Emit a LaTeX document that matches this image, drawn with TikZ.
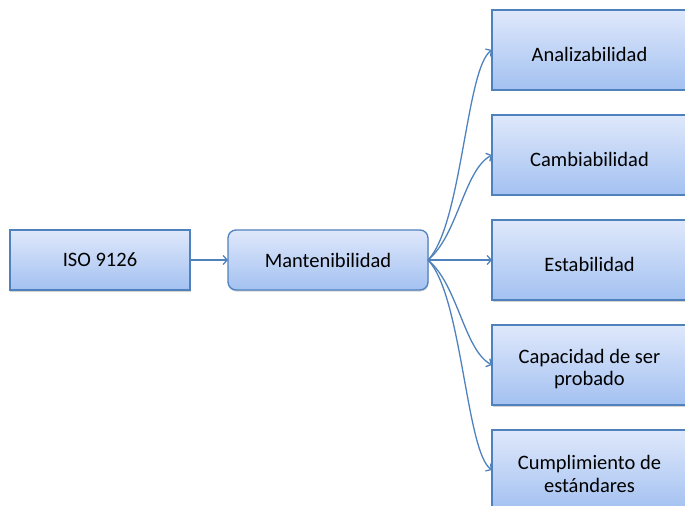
\documentclass[tikz,border=0pt]{standalone}
\usepackage{fontspec}
\setmainfont{Carlito}
\usetikzlibrary{arrows.meta,shadows}
\definecolor{edge}{RGB}{79,129,189}
\definecolor{filltop}{RGB}{223,232,251}
\definecolor{fillbot}{RGB}{163,193,241}
\begin{document}
\begin{tikzpicture}[x=1bp,y=-1bp,
  font=\fontsize{20.5bp}{22.5bp}\selectfont,
  box/.style={draw=edge, line width=1.3bp, top color=filltop, bottom color=fillbot,
    inner sep=0pt, outer sep=0pt, text=black,
    drop shadow={shadow xshift=0.5bp, shadow yshift=-1.5bp, opacity=0.35}},
  leftbox/.style={box, minimum width=180bp, minimum height=60bp},
  midbox/.style={box, minimum width=200bp, minimum height=60bp, rounded corners=8bp},
  rightbox/.style={box, minimum width=195bp, minimum height=80bp},
  txt/.style={align=center, yshift=-4bp},
  conn/.style={draw=edge, line width=1.3bp, -{Straight Barb[length=4bp,width=9bp]}}
]
\clip (0,0) rectangle (685,506);

% main chain
\node[leftbox] (iso) at (100,260) {ISO 9126};
\node[midbox] (m) at (328,260) {Mantenibilidad};

% sub-characteristics
\node[rightbox, label={[txt]center:Analizabilidad}] (a) at (589.5,50) {};
\node[rightbox, label={[txt]center:Cambiabilidad}] (b) at (589.5,155) {};
\node[rightbox, label={[txt]center:Estabilidad}] (c) at (589.5,260) {};
\node[rightbox, label={[txt]center:Capacidad de ser\\probado}] (d) at (589.5,365) {};
\node[rightbox, label={[txt]center:Cumplimiento de\\estándares}] (e) at (589.5,470) {};

% connectors
\draw[conn] (iso.east) -- (m.west);
\draw[conn] (m.east) .. controls (462,225) and (466,68) .. (a.west);
\draw[conn] (m.east) .. controls (458,235) and (464,170) .. (b.west);
\draw[conn] (m.east) -- (c.west);
\draw[conn] (m.east) .. controls (458,285) and (464,350) .. (d.west);
\draw[conn] (m.east) .. controls (462,295) and (466,452) .. (e.west);
\end{tikzpicture}
\end{document}
